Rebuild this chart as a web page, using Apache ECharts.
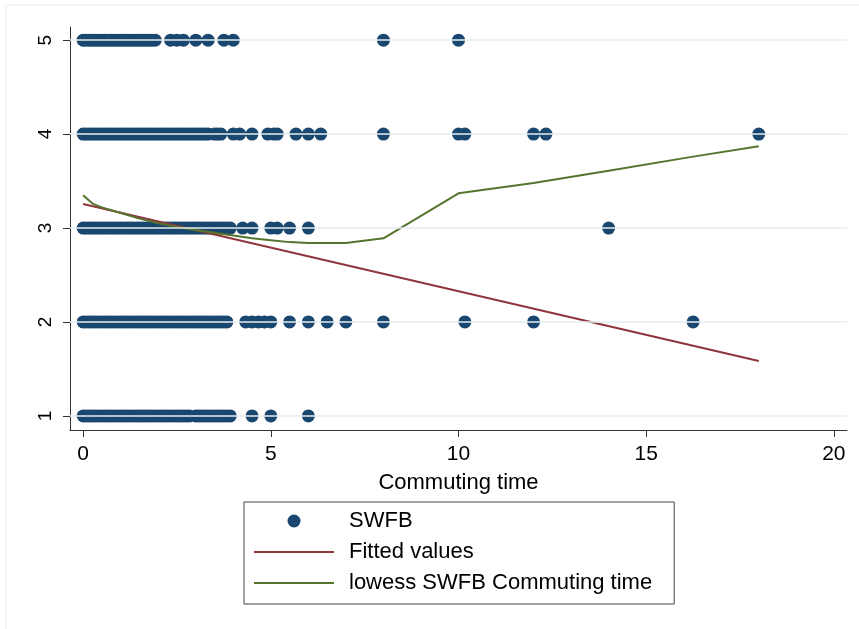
<!DOCTYPE html>
<html><head><meta charset="utf-8">
<script src="https://cdn.jsdelivr.net/npm/echarts@6/dist/echarts.min.js"></script>
<style>html,body{margin:0;padding:0;background:#fff}#c{width:859px;height:629px}</style>
</head><body><div id="c"></div>
<script>
// Tick labels
const yTicks = [1, 2, 3, 4, 5];
const xTicks = [0, 5, 10, 15, 20];

// Commuting time values for each SWFB level
const timeSWFB5 = [0, 0.08, 0.17, 0.25, 0.33, 0.42, 0.5, 0.58, 0.67, 0.75, 0.83, 0.92, 1, 1.08, 1.17, 1.25, 1.33, 1.42, 1.5, 1.58, 1.67, 1.75, 1.83, 1.92, 2.33, 2.5, 2.67, 3, 3.33, 3.75, 4, 8, 10];
const timeSWFB4 = [0, 0.08, 0.17, 0.25, 0.33, 0.42, 0.5, 0.58, 0.67, 0.75, 0.83, 0.92, 1, 1.08, 1.17, 1.25, 1.33, 1.42, 1.5, 1.58, 1.67, 1.75, 1.83, 1.92, 2, 2.08, 2.17, 2.25, 2.33, 2.42, 2.5, 2.58, 2.67, 2.75, 2.83, 2.92, 3, 3.08, 3.17, 3.25, 3.33, 3.5, 3.58, 3.67, 4, 4.17, 4.5, 4.92, 5.08, 5.17, 5.67, 6, 6.33, 8, 10, 10.17, 12, 12.33, 18];
const timeSWFB3 = [0, 0.08, 0.17, 0.25, 0.33, 0.42, 0.5, 0.58, 0.67, 0.75, 0.83, 0.92, 1, 1.08, 1.17, 1.25, 1.33, 1.42, 1.5, 1.58, 1.67, 1.75, 1.83, 1.92, 2, 2.08, 2.17, 2.25, 2.33, 2.42, 2.5, 2.58, 2.67, 2.75, 2.83, 2.92, 3, 3.08, 3.17, 3.25, 3.33, 3.42, 3.5, 3.58, 3.67, 3.75, 3.83, 3.92, 4.25, 4.5, 5, 5.17, 5.5, 6, 14];
const timeSWFB2 = [0, 0.08, 0.17, 0.25, 0.33, 0.42, 0.5, 0.58, 0.67, 0.75, 0.83, 0.92, 1, 1.08, 1.17, 1.25, 1.33, 1.42, 1.5, 1.58, 1.67, 1.75, 1.83, 1.92, 2, 2.08, 2.17, 2.25, 2.33, 2.42, 2.5, 2.58, 2.67, 2.75, 2.83, 2.92, 3, 3.08, 3.17, 3.25, 3.33, 3.42, 3.5, 3.58, 3.67, 3.75, 3.83, 4.33, 4.5, 4.67, 4.83, 5, 5.5, 6, 6.5, 7, 8, 10.17, 12, 16.25];
const timeSWFB1 = [0, 0.08, 0.17, 0.25, 0.33, 0.42, 0.5, 0.58, 0.67, 0.75, 0.83, 0.92, 1, 1.08, 1.17, 1.25, 1.33, 1.42, 1.5, 1.58, 1.67, 1.75, 1.83, 1.92, 2, 2.08, 2.17, 2.25, 2.33, 2.42, 2.5, 2.58, 2.67, 2.75, 2.83, 3, 3.08, 3.17, 3.25, 3.33, 3.42, 3.5, 3.58, 3.67, 3.75, 3.83, 3.92, 4.5, 5, 6];

// Fitted values (linear fit)
const fittedX = [0, 18];
const fittedY = [3.255, 1.585];

// lowess SWFB Commuting time
const lowessX = [0, 0.25, 0.5, 1, 1.5, 2, 2.5, 3, 3.5, 4, 4.5, 5, 5.5, 6, 6.5, 7, 8, 10, 12, 14, 16.25, 18];
const lowessY = [3.35, 3.26, 3.22, 3.16, 3.10, 3.05, 3.01, 2.98, 2.95, 2.92, 2.89, 2.87, 2.85, 2.84, 2.84, 2.84, 2.89, 3.37, 3.48, 3.61, 3.76, 3.87];

const levels = [[1, timeSWFB1], [2, timeSWFB2], [3, timeSWFB3], [4, timeSWFB4], [5, timeSWFB5]];
const scatterData = [];
levels.forEach(([lv, arr]) => arr.forEach(t => scatterData.push([t, lv])));

const FONT = '"Liberation Sans", Arial, sans-serif';
const chart = echarts.init(document.getElementById('c'));
chart.setOption({
  animation: false,
  backgroundColor: '#fff',
  textStyle: { fontFamily: FONT },
  graphic: [
    { type: 'rect', z: -10, silent: true, shape: { x: 6, y: 5, width: 1000, height: 1000 },
      style: { fill: 'none', stroke: '#e4ecef', lineWidth: 1 } }
  ],
  grid: { left: 70, right: 12, top: 27, bottom: 199, containLabel: false },
  xAxis: {
    type: 'value', min: -0.35, max: 20.35,
    axisLine: { show: true, onZero: false, lineStyle: { color: '#333', width: 1 } },
    axisTick: { show: true, customValues: xTicks, length: 7, lineStyle: { color: '#333' } },
    axisLabel: { customValues: xTicks, fontSize: 21, color: '#000', margin: 14, fontFamily: FONT },
    splitLine: { show: false },
    name: 'Commuting time', nameLocation: 'middle', nameGap: 42,
    nameTextStyle: { fontSize: 22, color: '#000', fontFamily: FONT }
  },
  yAxis: {
    type: 'value', min: 0.85, max: 5.14,
    axisLine: { show: true, onZero: false, lineStyle: { color: '#333', width: 1 } },
    axisTick: { show: true, customValues: yTicks, length: 7, lineStyle: { color: '#333' } },
    axisLabel: { customValues: yTicks, fontSize: 19, color: '#000', margin: 15, rotate: 90, fontFamily: FONT },
    splitLine: { show: false }
  },
  legend: {
    orient: 'vertical', left: 244, top: 502,
    itemWidth: 80, itemHeight: 13, itemGap: 9,
    borderColor: '#444', borderWidth: 1, padding: [8, 22, 10, 9],
    textStyle: { fontSize: 22, color: '#000', padding: [0, 0, 0, 10], lineHeight: 22, fontFamily: FONT },
    data: [
      { name: 'SWFB', icon: 'circle' },
      { name: 'Fitted values', itemStyle: { opacity: 0 } },
      { name: 'lowess SWFB Commuting time', itemStyle: { opacity: 0 } }
    ]
  },
  series: [
    {
      name: 'grid', type: 'line', data: [], z: 1, silent: true,
      markLine: {
        silent: true, symbol: ['none', 'none'], label: { show: false },
        lineStyle: { color: '#e6eef1', width: 1.5, type: 'solid' },
        data: yTicks.map(v => ({ yAxis: v }))
      }
    },
    {
      name: 'SWFB', type: 'scatter', z: 2, symbol: 'circle', symbolSize: 13,
      itemStyle: { color: '#1a476f', opacity: 1 },
      data: scatterData
    },
    {
      name: 'Fitted values', type: 'line', z: 3, symbol: 'none',
      lineStyle: { color: '#90353b', width: 2 }, itemStyle: { color: '#90353b' },
      data: fittedX.map((x, i) => [x, fittedY[i]])
    },
    {
      name: 'lowess SWFB Commuting time', type: 'line', z: 3, symbol: 'none',
      lineStyle: { color: '#55752f', width: 2 }, itemStyle: { color: '#55752f' },
      data: lowessX.map((x, i) => [x, lowessY[i]])
    }
  ]
});
</script>
</body></html>
